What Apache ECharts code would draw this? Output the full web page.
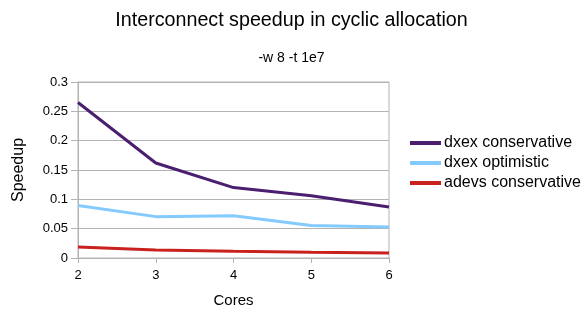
<!DOCTYPE html>
<html>
<head>
<meta charset="utf-8">
<script src="https://cdn.jsdelivr.net/npm/echarts@6/dist/echarts.min.js"></script>
<style>
  html, body { margin: 0; padding: 0; background: #fff; }
  #chart { width: 583px; height: 309px; }
</style>
</head>
<body>
<div id="chart"></div>
<script>
const cores = ['2', '3', '4', '5', '6'];
const dxexConservative = [0.265, 0.162, 0.120, 0.106, 0.087];
const dxexOptimistic = [0.0895, 0.0705, 0.0722, 0.0553, 0.053];
const adevsConservative = [0.0188, 0.0137, 0.0114, 0.0097, 0.0086];
const seriesNames = ['dxex conservative', 'dxex optimistic', 'adevs conservative'];

const font = 'Liberation Sans, Arial, sans-serif';
const chart = echarts.init(document.getElementById('chart'));

function lineSeries(name, data, color) {
    return {
        name: name,
        type: 'line',
        data: data,
        symbol: 'none',
        color: color,
        lineStyle: { width: 3, color: color },
        animation: false
    };
}

chart.setOption({
    animation: false,
    title: [
        {
            text: 'Interconnect speedup in cyclic allocation',
            left: 'center',
            top: 6,
            textStyle: { fontFamily: font, fontWeight: 'normal', fontSize: 19.7, color: '#000' }
        },
        {
            text: '-w 8 -t 1e7',
            left: 'center',
            top: 46,
            textStyle: { fontFamily: font, fontWeight: 'normal', fontSize: 14, color: '#000' }
        }
    ],
    grid: {
        left: 78,
        right: 194,
        top: 82,
        bottom: 51,
        outerBoundsMode: 'none',
        containLabel: false,
        show: true,
        borderColor: '#b3b3b3',
        borderWidth: 1
    },
    legend: {
        orient: 'vertical',
        left: 405,
        top: 128,
        itemWidth: 31,
        itemHeight: 14,
        itemGap: 0,
        data: seriesNames.map(n => ({ name: n, icon: 'path://M0,0H31V4H0Z' })),
        textStyle: { fontFamily: font, fontSize: 16, lineHeight: 20, color: '#000', padding: [0, 0, 0, -2] }
    },
    xAxis: {
        type: 'category',
        data: cores,
        boundaryGap: false,
        name: 'Cores',
        nameLocation: 'middle',
        nameGap: 35,
        nameTextStyle: { fontFamily: font, fontSize: 15, color: '#000' },
        axisLine: { lineStyle: { color: '#b3b3b3' } },
        axisTick: { show: true, length: 5, lineStyle: { color: '#b3b3b3' } },
        axisLabel: { fontFamily: font, fontSize: 13, color: '#000', margin: 11 },
        splitLine: { show: false }
    },
    yAxis: {
        type: 'value',
        min: 0,
        max: 0.3,
        interval: 0.05,
        name: 'Speedup',
        nameLocation: 'middle',
        nameGap: 51,
        nameTextStyle: { fontFamily: font, fontSize: 16, color: '#000' },
        axisLine: { show: true, lineStyle: { color: '#b3b3b3' } },
        axisTick: { show: true, length: 7, lineStyle: { color: '#b3b3b3' } },
        axisLabel: { fontFamily: font, fontSize: 13, color: '#000', margin: 10 },
        splitLine: { show: true, lineStyle: { color: '#b3b3b3', width: 1 } }
    },
    series: [
        lineSeries(seriesNames[0], dxexConservative, '#4b1f6f'),
        lineSeries(seriesNames[1], dxexOptimistic, '#83caff'),
        lineSeries(seriesNames[2], adevsConservative, '#c9211e')
    ]
});
</script>
</body>
</html>
